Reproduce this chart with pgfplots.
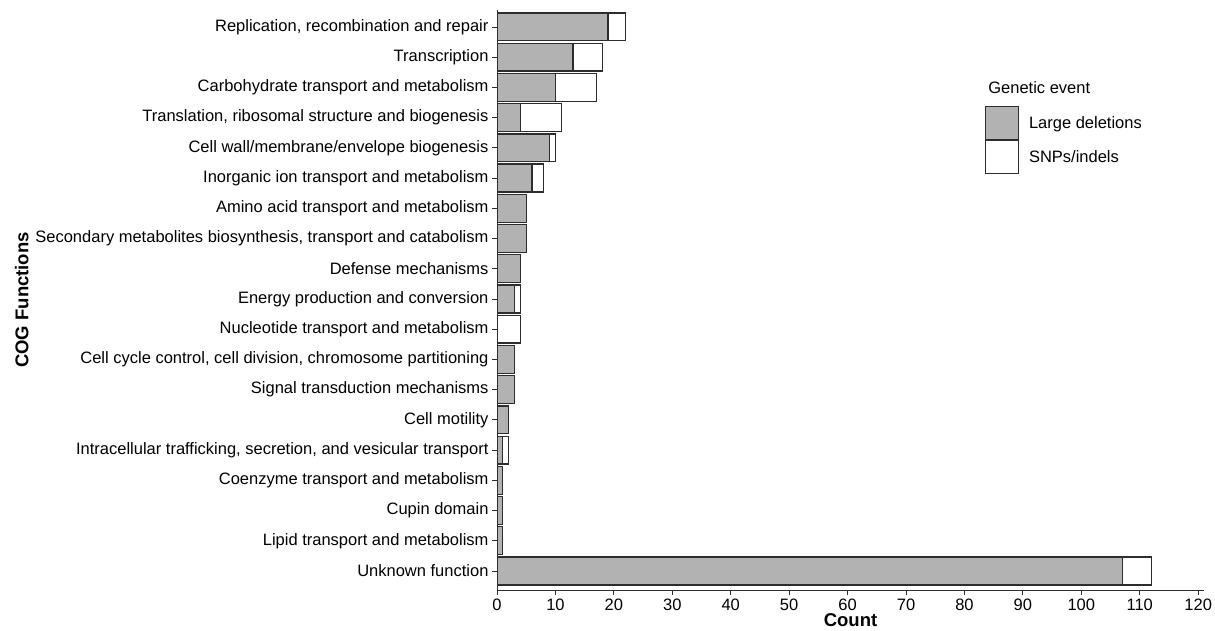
\documentclass[border=0pt]{standalone}
\usepackage{pgfplots}
\pgfplotsset{compat=1.18}
\usepackage{fontspec}
\setmainfont{Liberation Sans}
\definecolor{barfill}{RGB}{178,178,178}
\definecolor{edge}{RGB}{45,45,45}
\begin{document}
\begin{tikzpicture}[font=\fontsize{16.5}{19}\selectfont]
\path[use as bounding box] (0,0) rectangle (1215pt,630pt);
\begin{axis}[
  at={(497pt,40pt)}, anchor=south west,
  scale only axis, width=707pt, height=580pt,
  xbar stacked, bar width=0.92,
  xmin=0, xmax=121, ymin=-0.56, ymax=18.63, y dir=reverse,
  xtick={0,10,...,120}, ytick={0,...,18},
  yticklabels={{Replication, recombination and repair},{Transcription},{Carbohydrate transport and metabolism},{Translation, ribosomal structure and biogenesis},{Cell wall/membrane/envelope biogenesis},{Inorganic ion transport and metabolism},{Amino acid transport and metabolism},{Secondary metabolites biosynthesis, transport and catabolism},{Defense mechanisms},{Energy production and conversion},{Nucleotide transport and metabolism},{Cell cycle control, cell division, chromosome partitioning},{Signal transduction mechanisms},{Cell motility},{Intracellular trafficking, secretion, and vesicular transport},{Coenzyme transport and metabolism},{Cupin domain},{Lipid transport and metabolism},{Unknown function}},
  axis x line*=bottom, axis y line*=left,
  axis line style={-, edge, line width=1pt},
  tick align=outside, major tick length=5pt,
  tick style={edge, line width=0.8pt},
  /pgf/number format/assume math mode=true,
  xlabel={\bfseries\fontsize{18.5}{21}\selectfont Count},
  xlabel style={yshift=4pt},
  ylabel={\bfseries\fontsize{18.5}{21}\selectfont COG Functions},
  legend style={at={(0.690,0.834)}, anchor=north west, draw=none, fill=none,
    inner sep=0pt, row sep=0pt, column sep=10pt, nodes={inner sep=0pt, anchor=west}},
  legend cell align=left,
  legend image code/.code={\draw[#1, line width=1pt] (0pt,-16.5pt) rectangle (33pt,16.5pt);},
]
\addplot[fill=barfill, draw=edge, line width=1.3pt] coordinates {
(19,0) (13,1) (10,2) (4,3) (9,4) (6,5) (5,6) (5,7) (4,8) (3,9) (0,10) (3,11) (3,12) (2,13) (1,14) (1,15) (1,16) (1,17) (107,18)};
\addlegendentry{Large deletions}
\addplot[fill=white, draw=edge, line width=1.3pt] coordinates {
(3,0) (5,1) (7,2) (7,3) (1,4) (2,5) (0,6) (0,7) (0,8) (1,9) (4,10) (0,11) (0,12) (0,13) (1,14) (0,15) (0,16) (0,17) (5,18)};
\addlegendentry{SNPs/indels}
\node[anchor=west] at (axis description cs:0.690,0.866) {Genetic event};
\end{axis}
\end{tikzpicture}
\end{document}
